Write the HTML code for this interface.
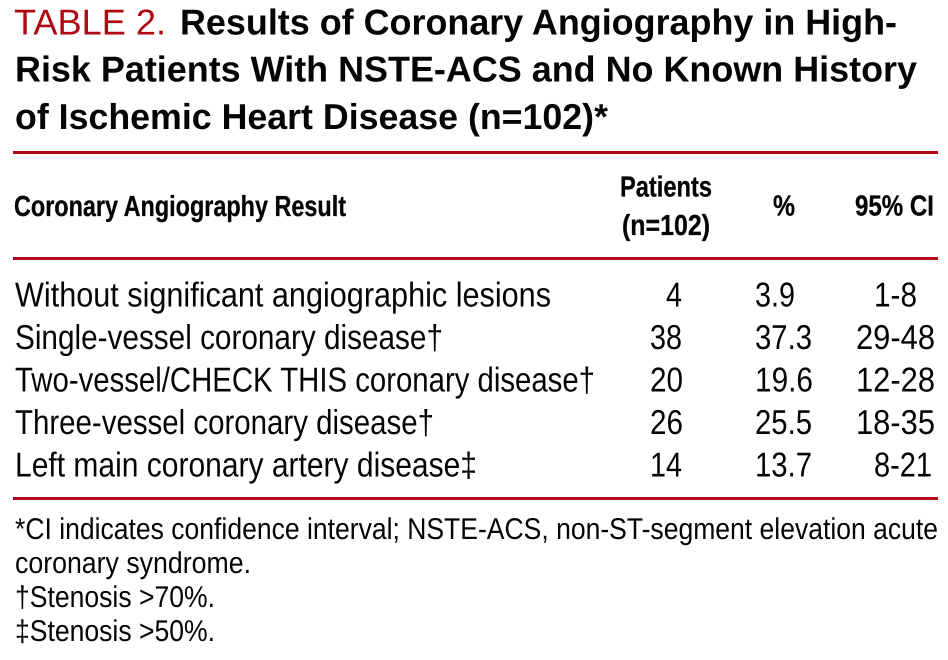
<!DOCTYPE html>
<html lang="en">
<head>
<meta charset="utf-8">
<title>Table 2. Results of Coronary Angiography</title>
<style>
html,body{margin:0;padding:0;background:#fff;width:948px;height:660px;overflow:hidden}
svg{display:block}
text{font-family:"Liberation Sans",Arial,sans-serif;fill:#050505;text-rendering:geometricPrecision}
.t{font-size:36px;font-weight:700}
.tr{font-size:36px;font-weight:400;fill:#ae0812}
.h{font-size:29px;font-weight:700;stroke:#050505;stroke-width:.3px}
.r{font-size:34.5px}
.f{font-size:30px}
</style>
</head>
<body>
<svg xmlns="http://www.w3.org/2000/svg" width="948" height="660" viewBox="0 0 948 660">
<rect width="948" height="660" fill="#fff"/>

<text class="tr" x="14" y="34.5" textLength="152" lengthAdjust="spacingAndGlyphs">TABLE 2.</text>
<text class="t" x="180" y="34.5" textLength="717" lengthAdjust="spacingAndGlyphs">Results of Coronary Angiography in High-</text>
<text class="t" x="15" y="81.5" textLength="902" lengthAdjust="spacingAndGlyphs">Risk Patients With NSTE-ACS and No Known History</text>
<text class="t" x="15" y="129" textLength="593" lengthAdjust="spacingAndGlyphs">of Ischemic Heart Disease (n=102)*</text>

<rect x="13" y="151" width="925" height="3" fill="#ae0812"/>

<text class="h" x="14" y="216" textLength="332" lengthAdjust="spacingAndGlyphs">Coronary Angiography Result</text>
<text class="h" x="620" y="196.5" textLength="92" lengthAdjust="spacingAndGlyphs">Patients</text>
<text class="h" x="622" y="235" textLength="88" lengthAdjust="spacingAndGlyphs">(n=102)</text>
<text class="h" x="773" y="215.5" textLength="22" lengthAdjust="spacingAndGlyphs">%</text>
<text class="h" x="855" y="215.5" textLength="79" lengthAdjust="spacingAndGlyphs">95% CI</text>

<rect x="13" y="257" width="925" height="3" fill="#ae0812"/>

<g>
<text class="r" x="15" y="306.7" textLength="536" lengthAdjust="spacingAndGlyphs">Without significant angiographic lesions</text>
<text class="r" x="666" y="306.7" textLength="16" lengthAdjust="spacingAndGlyphs">4</text>
<text class="r" x="755" y="306.7" textLength="40" lengthAdjust="spacingAndGlyphs">3.9</text>
<text class="r" x="874" y="306.7" textLength="43" lengthAdjust="spacingAndGlyphs">1-8</text>
</g>
<g>
<text class="r" x="15" y="349" textLength="428" lengthAdjust="spacingAndGlyphs">Single-vessel coronary disease†</text>
<text class="r" x="650" y="349" textLength="32" lengthAdjust="spacingAndGlyphs">38</text>
<text class="r" x="755" y="349" textLength="57" lengthAdjust="spacingAndGlyphs">37.3</text>
<text class="r" x="856" y="349" textLength="79" lengthAdjust="spacingAndGlyphs">29-48</text>
</g>
<g>
<text class="r" x="15" y="391.5" textLength="580" lengthAdjust="spacingAndGlyphs">Two-vessel/CHECK THIS coronary disease†</text>
<text class="r" x="650" y="391.5" textLength="33" lengthAdjust="spacingAndGlyphs">20</text>
<text class="r" x="755" y="391.5" textLength="58" lengthAdjust="spacingAndGlyphs">19.6</text>
<text class="r" x="856" y="391.5" textLength="79" lengthAdjust="spacingAndGlyphs">12-28</text>
</g>
<g>
<text class="r" x="15" y="434" textLength="419" lengthAdjust="spacingAndGlyphs">Three-vessel coronary disease†</text>
<text class="r" x="650" y="434" textLength="33" lengthAdjust="spacingAndGlyphs">26</text>
<text class="r" x="755" y="434" textLength="57" lengthAdjust="spacingAndGlyphs">25.5</text>
<text class="r" x="856" y="434" textLength="79" lengthAdjust="spacingAndGlyphs">18-35</text>
</g>
<g>
<text class="r" x="15" y="476.5" textLength="462" lengthAdjust="spacingAndGlyphs">Left main coronary artery disease‡</text>
<text class="r" x="650" y="476.5" textLength="32" lengthAdjust="spacingAndGlyphs">14</text>
<text class="r" x="755" y="476.5" textLength="57" lengthAdjust="spacingAndGlyphs">13.7</text>
<text class="r" x="874" y="476.5" textLength="58" lengthAdjust="spacingAndGlyphs">8-21</text>
</g>

<rect x="13" y="497" width="925" height="3" fill="#ae0812"/>

<text class="f" x="15" y="539" textLength="923" lengthAdjust="spacingAndGlyphs">*CI indicates confidence interval; NSTE-ACS, non-ST-segment elevation acute</text>
<text class="f" x="15" y="573" textLength="236" lengthAdjust="spacingAndGlyphs">coronary syndrome.</text>
<text class="f" x="15" y="607" textLength="200" lengthAdjust="spacingAndGlyphs">†Stenosis &gt;70%.</text>
<text class="f" x="15" y="641" textLength="200" lengthAdjust="spacingAndGlyphs">‡Stenosis &gt;50%.</text>
</svg>
</body>
</html>
